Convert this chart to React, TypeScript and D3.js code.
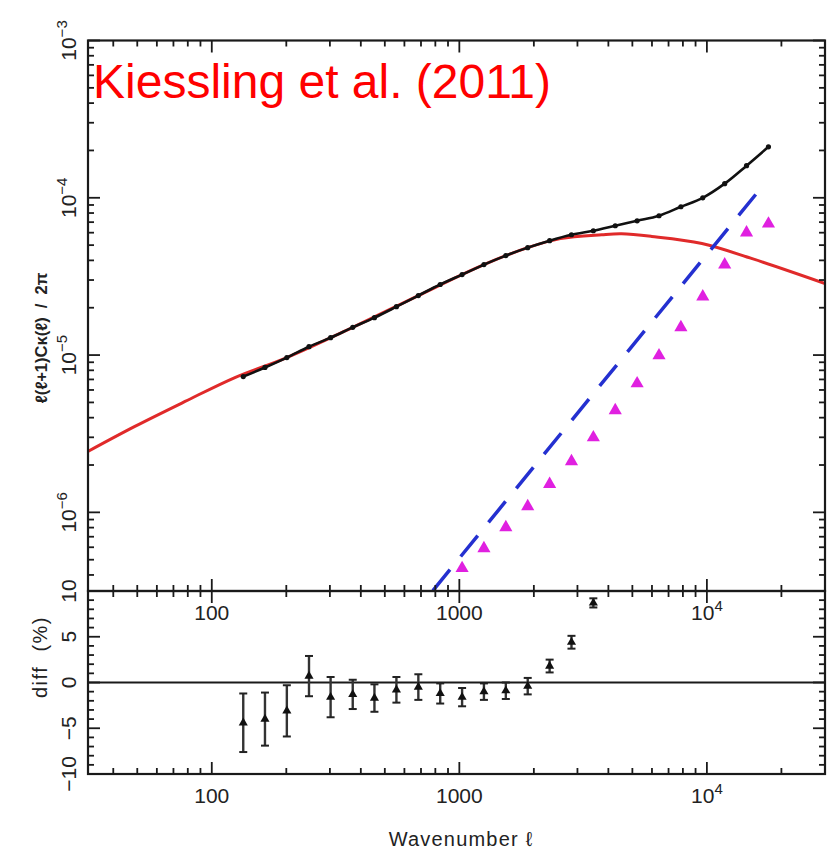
import React from 'react';
import * as d3 from 'd3';

// multipole grid of the simulation measurements
const ells = [134, 164, 201, 247, 302, 371, 454, 557, 683, 837, 1026, 1257, 1541, 1889, 2316, 2838, 3478, 4264, 5226, 6406, 7852, 9624, 11800, 14460, 17730];
// simulation convergence power (black)
const simPower = [7.30e-6, 8.34e-6, 9.64e-6, 1.13e-5, 1.29e-5, 1.50e-5, 1.73e-5, 2.03e-5, 2.39e-5, 2.81e-5, 3.25e-5, 3.76e-5, 4.29e-5, 4.82e-5, 5.34e-5, 5.82e-5, 6.17e-5, 6.64e-5, 7.14e-5, 7.69e-5, 8.77e-5, 1.00e-4, 1.23e-4, 1.60e-4, 2.11e-4];
// theory curve (red)
const theoryEll = [31.6, 48.9, 78, 124, 201, 371, 683, 1257, 1889, 2560, 3758, 4525, 5987, 9550, 15240, 30000];
const theoryPower = [2.44e-6, 3.52e-6, 5.07e-6, 7.20e-6, 9.64e-6, 1.50e-5, 2.39e-5, 3.76e-5, 4.82e-5, 5.50e-5, 5.82e-5, 5.90e-5, 5.68e-5, 5.12e-5, 4.10e-5, 2.85e-5];
// shot noise (blue dashed)
const noiseEll = [782, 16590];
const noisePower = [3.18e-7, 1.16e-4];
// magenta triangles
const triEll = [1026, 1257, 1541, 1889, 2316, 2838, 3478, 4264, 5226, 6406, 7852, 9624, 11800, 14460, 17730];
const triPower = [4.41e-7, 5.90e-7, 8.03e-7, 1.09e-6, 1.51e-6, 2.11e-6, 2.99e-6, 4.45e-6, 6.59e-6, 9.93e-6, 1.50e-5, 2.35e-5, 3.76e-5, 6.00e-5, 6.84e-5];
// difference panel
const diffEll = [134, 164, 201, 247, 302, 371, 454, 557, 683, 837, 1026, 1257, 1541, 1889, 2316, 2838, 3478];
const diffVal = [-4.4, -4.0, -3.1, 0.7, -1.6, -1.3, -1.7, -0.8, -0.5, -1.2, -1.6, -1.0, -0.9, -0.4, 1.8, 4.4, 8.7];
const diffErr = [3.2, 2.9, 2.8, 2.2, 2.2, 1.6, 1.5, 1.4, 1.4, 1.1, 1.0, 0.9, 0.9, 0.9, 0.7, 0.7, 0.5];

const xTickLabels = [{ v: 100, t: '100' }, { v: 1000, t: '1000' }, { v: 10000, t: '10', sup: '4' }];
const yTopLabels = [{ v: 1e-3, e: '−3' }, { v: 1e-4, e: '−4' }, { v: 1e-5, e: '−5' }, { v: 1e-6, e: '−6' }];
const yDiffLabels = [10, 5, 0, -5, -10];

const L = 88, R = 825, T = 40.5, M = 591, B = 774;
const FONT = "'Liberation Sans', Arial, Helvetica, sans-serif";
const INK = '#1a1a1a';

export default function App() {
  const x = d3.scaleLog().domain([31.62, 30000]).range([L, R]);
  const y = d3.scaleLog().domain([Math.pow(10, -6.5), 1e-3]).range([M, T]);
  const yd = d3.scaleLinear().domain([-10, 10]).range([B, M]);

  const xTicks: { v: number; major: boolean }[] = [];
  for (let d = 1; d <= 4; d++) for (let k = 1; k <= 9; k++) {
    const v = k * Math.pow(10, d);
    if (v >= 31.62 && v <= 30000) xTicks.push({ v, major: k === 1 });
  }
  const yTicks: { v: number; major: boolean }[] = [];
  for (let d = -7; d <= -3; d++) for (let k = 1; k <= 9; k++) {
    const v = k * Math.pow(10, d);
    if (v >= Math.pow(10, -6.5) * 0.999 && v <= 1.0001e-3) yTicks.push({ v, major: k === 1 });
  }
  const ydTicks = d3.range(-10, 11).map((v) => ({ v, major: v % 5 === 0 }));

  const lineGen = d3.line<[number, number]>().x((d) => x(d[0])).y((d) => y(d[1])).curve(d3.curveCatmullRom.alpha(0.5));
  const simPath = lineGen(ells.map((e, i) => [e, simPower[i]]))!;
  const theoryPath = lineGen(theoryEll.map((e, i) => [e, theoryPower[i]]))!;
  const noisePath = d3.line<[number, number]>().x((d) => x(d[0])).y((d) => y(d[1]))(noiseEll.map((e, i) => [e, noisePower[i]]))!;
  const tri = d3.symbol().type(d3.symbolTriangle);

  const maj = 12, mnr = 6;

  return (
    <svg width={829} height={852} style={{ position: 'absolute', left: 0, top: 0, background: '#fff' }} fontFamily={FONT}>
      <defs>
        <clipPath id="topclip"><rect x={L} y={T} width={R - L} height={M - T} /></clipPath>
        <clipPath id="botclip"><rect x={L} y={M} width={R - L} height={B - M} /></clipPath>
      </defs>
      <rect width={829} height={852} fill="#fff" />

      {/* top panel data */}
      <g clipPath="url(#topclip)">
        <path d={theoryPath} fill="none" stroke="#e02a2a" strokeWidth={3} />
        <path d={noisePath} fill="none" stroke="#2430d0" strokeWidth={3.5} strokeDasharray="27,17" />
        <path d={simPath} fill="none" stroke="#111" strokeWidth={2.6} />
        {ells.map((e, i) => (
          <circle key={i} cx={x(e)} cy={y(simPower[i])} r={2.6} fill="#111" />
        ))}
        {triEll.map((e, i) => (
          <path key={i} d={tri.size(75)()!} transform={`translate(${x(e)},${y(triPower[i])})`} fill="#e020e0" />
        ))}
      </g>

      {/* bottom panel data */}
      <g clipPath="url(#botclip)">
        <line x1={L} x2={R} y1={yd(0)} y2={yd(0)} stroke={INK} strokeWidth={2} />
        {diffEll.map((e, i) => {
          const cx = x(e);
          const y1 = yd(diffVal[i] + diffErr[i]);
          const y2 = yd(diffVal[i] - diffErr[i]);
          return (
            <g key={i}>
              <line x1={cx} x2={cx} y1={y1} y2={y2} stroke="#333" strokeWidth={2.4} />
              <line x1={cx - 4} x2={cx + 4} y1={y1} y2={y1} stroke="#222" strokeWidth={2} />
              <line x1={cx - 4} x2={cx + 4} y1={y2} y2={y2} stroke="#222" strokeWidth={2} />
              <path d={tri.size(36)()!} transform={`translate(${cx},${yd(diffVal[i])})`} fill="#111" />
            </g>
          );
        })}
      </g>

      {/* frames */}
      <rect x={L} y={T} width={R - L} height={M - T} fill="none" stroke={INK} strokeWidth={2.2} />
      <rect x={L} y={M} width={R - L} height={B - M} fill="none" stroke={INK} strokeWidth={2.2} />

      {/* x ticks */}
      {xTicks.map((t, i) => {
        const px = x(t.v);
        const len = t.major ? maj : mnr;
        return (
          <g key={i} stroke={INK} strokeWidth={1.8}>
            <line x1={px} x2={px} y1={T} y2={T + len} />
            <line x1={px} x2={px} y1={M - len} y2={M + len} />
            <line x1={px} x2={px} y1={B - len} y2={B} />
          </g>
        );
      })}
      {/* y ticks top */}
      {yTicks.map((t, i) => {
        const py = y(t.v);
        const len = t.major ? maj : mnr;
        return (
          <g key={i} stroke={INK} strokeWidth={1.8}>
            <line x1={L} x2={L + len} y1={py} y2={py} />
            <line x1={R - len} x2={R} y1={py} y2={py} />
          </g>
        );
      })}
      {/* y ticks diff */}
      {ydTicks.map((t, i) => {
        const py = yd(t.v);
        const len = t.major ? maj : mnr;
        return (
          <g key={i} stroke={INK} strokeWidth={1.8}>
            <line x1={L} x2={L + len} y1={py} y2={py} />
            <line x1={R - len} x2={R} y1={py} y2={py} />
          </g>
        );
      })}

      {/* x tick labels */}
      {[620, 803].map((by) =>
        xTickLabels.map((t, i) => (
          <text key={`${by}-${i}`} x={x(t.v)} y={by} textAnchor="middle" fontSize={21} fill="#222">
            {t.t}
            {t.sup ? <tspan dy={-9} fontSize={15}>{t.sup}</tspan> : null}
          </text>
        ))
      )}

      {/* top y tick labels */}
      {yTopLabels.map((t, i) => (
        <text key={i} transform={`translate(76,${y(t.v)}) rotate(-90)`} textAnchor="middle" fontSize={21} fill="#222">
          10<tspan dy={-9} fontSize={15}>{t.e}</tspan>
        </text>
      ))}
      {/* diff y tick labels */}
      {yDiffLabels.map((v, i) => (
        <text key={i} transform={`translate(76,${yd(v)}) rotate(-90)`} textAnchor="middle" fontSize={21} fill="#222">
          {v < 0 ? `−${-v}` : `${v}`}
        </text>
      ))}

      {/* axis titles */}
      <text transform="translate(47,338) rotate(-90)" textAnchor="middle" fontSize={16.5} fill="#222" fontWeight="bold" style={{ whiteSpace: 'pre' }}>
        ℓ(ℓ+1)Cκ(ℓ)  /  2π
      </text>
      <text transform="translate(47,657) rotate(-90)" textAnchor="middle" fontSize={20} fill="#222" letterSpacing={1.5} style={{ whiteSpace: 'pre' }}>
        diff  (%)
      </text>
      <text x={461} y={846} textAnchor="middle" fontSize={20} letterSpacing={1.2} fill="#222">
        Wavenumber ℓ
      </text>

      {/* title */}
      <text x={93} y={98} fontSize={48} fill="#ff0000">
        Kiessling et al. (2011)
      </text>
    </svg>
  );
}
